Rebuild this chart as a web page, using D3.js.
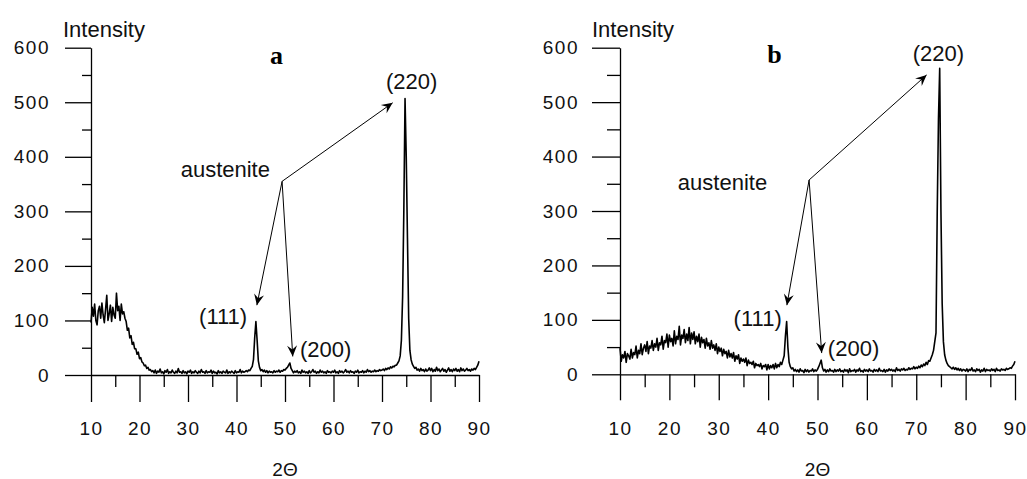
<!DOCTYPE html>
<html>
<head>
<meta charset="utf-8">
<script src="https://cdn.jsdelivr.net/npm/d3@7"></script>
<style>
  html, body { margin: 0; padding: 0; background: #fff; }
  svg { display: block; }
</style>
</head>
<body>
<div id="chart"></div>
<script>
const WIDTH = 1027, HEIGHT = 479;

// 2-theta sampling grid (degrees)
const THETA_START = 10, THETA_STEP = 0.25, N_POINTS = 321;

// intensity of sample a, one row per 5 degrees (20 readings each)
const INTENSITY_A = [
  96,124,108,130,100,92,118,126,104,132,110,96,120,146,100,112,128,98,124,110,   // 10
  104,150,118,126,100,130,112,116,104,98,82,86,68,72,56,60,48,48,38,42,          // 15
  30,32,24,22,17,18,12,14,9,10,6,8,4,9,3,7,5,11,4,6,                             // 20
  2,8,5,10,3,6,4,9,5,3,7,4,12,5,6,3,8,4,6,2,                                     // 25
  7,5,9,3,6,4,8,5,3,7,4,10,5,6,3,8,4,6,5,9,                                      // 30
  3,7,4,5,2,8,4,6,3,7,5,4,9,3,6,4,7,5,3,8,                                       // 35
  4,6,5,10,4,7,5,6,8,6,9,8,12,16,28,68,98,64,26,14,                              // 40
  8,10,6,9,5,8,4,7,5,6,4,8,5,7,6,9,5,8,7,10,                                     // 45
  9,12,14,18,22,12,8,4,7,5,8,4,6,3,9,5,7,4,6,3,                                  // 50
  8,4,6,10,5,7,3,6,4,9,5,7,4,6,3,8,5,6,4,7,                                      // 55
  5,9,4,6,3,8,5,7,4,6,10,5,7,4,8,5,6,3,7,5,                                      // 60
  9,4,6,5,8,4,7,5,10,6,8,5,7,6,9,6,8,7,10,8,                                     // 65
  9,11,8,12,10,13,11,15,13,16,15,18,18,22,26,35,64,143,300,507,                  // 70
  400,251,104,45,28,20,16,12,14,9,11,7,12,8,10,6,11,7,9,13,                      // 75
  8,12,6,10,7,14,8,11,6,9,12,7,10,5,9,13,7,10,6,11,                              // 80
  8,12,7,10,6,13,8,11,7,9,12,8,10,7,11,9,12,10,14,18,                            // 85
  25                                                                             // 90
];

// intensity of sample b
const INTENSITY_B = [
  48,24,36,30,42,22,38,34,28,46,30,40,36,52,30,44,38,56,36,48,                   // 10
  54,42,60,38,52,48,62,44,56,50,66,44,58,54,70,46,62,58,74,50,                   // 15
  72,60,66,52,80,56,70,64,88,54,72,66,82,58,74,62,86,56,76,64,                   // 20
  78,56,70,60,74,50,68,58,64,48,66,52,58,46,62,48,54,44,56,38,                   // 25
  50,42,48,34,46,38,42,30,44,32,38,30,40,24,34,28,36,20,30,24,                   // 30
  28,22,30,16,26,20,22,18,24,12,20,16,18,14,20,10,16,14,18,8,                    // 35
  18,10,16,12,18,10,20,12,18,14,22,18,26,34,70,97,50,22,14,10,                   // 40
  12,6,9,5,8,4,10,6,7,3,9,5,8,4,7,6,10,5,8,6,                                    // 45
  9,14,20,26,12,6,9,4,8,5,10,6,7,4,9,5,8,6,10,5,                                 // 50
  7,4,9,6,8,3,10,5,7,6,9,4,8,6,11,5,7,4,9,6,                                     // 55
  8,5,10,6,7,4,9,6,8,5,11,6,7,5,9,4,8,6,10,7,                                    // 60
  9,6,8,5,12,7,9,6,10,8,11,7,9,8,12,9,11,10,14,10,                               // 65
  13,11,15,12,17,14,19,16,22,18,25,24,30,36,44,60,76,300,470,562,                // 70
  300,130,60,36,26,20,16,14,12,10,13,9,12,8,11,7,10,6,9,8,                       // 75
  6,10,5,9,7,12,6,8,5,10,7,9,4,8,6,11,5,9,7,8,                                   // 80
  6,10,7,9,5,11,7,8,6,10,8,9,7,11,9,10,12,11,15,18,                              // 85
  24                                                                             // 90
];

const X_MAJOR = [10, 20, 30, 40, 50, 60, 70, 80, 90];
const X_MINOR = [15, 25, 35, 45, 55, 65, 75, 85];
const Y_MAJOR = [0, 100, 200, 300, 400, 500, 600];
const Y_MINOR = [50, 150, 250, 350, 450, 550];

// annotations in data units: [theta, intensity]
const APEX_A = [49.4, 355];
const TIPS_A = [[72.2, 499], [44.2, 128], [51.6, 34]];
const APEX_B = [48.3, 357];
const TIPS_B = [[72.1, 550], [43.8, 127], [50.85, 39]];

const LABELS_A = [
  { text: "austenite", t: 46.9, i: 363, anchor: "end" },
  { text: "(111)", t: 42.2, i: 93, anchor: "end" },
  { text: "(200)", t: 53.1, i: 33, anchor: "start" },
  { text: "(220)", t: 70.8, i: 524, anchor: "start" }
];
const LABELS_B = [
  { text: "austenite", t: 39.8, i: 338, anchor: "end" },
  { text: "(111)", t: 42.75, i: 89, anchor: "end" },
  { text: "(200)", t: 52.1, i: 34, anchor: "start" },
  { text: "(220)", t: 69.3, i: 575, anchor: "start" }
];

const thetas = d3.range(N_POINTS).map(i => THETA_START + i * THETA_STEP);

const PANELS = [
  { name: "a", values: INTENSITY_A, apex: APEX_A, tips: TIPS_A, labels: LABELS_A,
    xr: [91, 479], yr: [375, 47.7], yMaj: 26, yMin: 9, xMaj: 27, xMin: 12,
    tag: [46.9, 571] },
  { name: "b", values: INTENSITY_B, apex: APEX_B, tips: TIPS_B, labels: LABELS_B,
    xr: [620, 1015], yr: [374.3, 47.7], yMaj: 28, yMin: 13, xMaj: 26, xMin: 13,
    tag: [39.8, 572] }
];

const FONT = "'Liberation Sans', Arial, sans-serif";

const svg = d3.select("#chart").append("svg")
  .attr("width", WIDTH)
  .attr("height", HEIGHT);

svg.append("defs").append("marker")
  .attr("id", "arr")
  .attr("markerUnits", "userSpaceOnUse")
  .attr("viewBox", "-12 -6 14 12")
  .attr("refX", 0).attr("refY", 0)
  .attr("markerWidth", 14).attr("markerHeight", 12)
  .attr("orient", "auto")
  .append("path")
  .attr("d", "M0,0 L-11,-5 L-7,0 L-11,5 Z")
  .attr("fill", "#000");

PANELS.forEach(p => drawPanel(p));

function drawPanel(p) {
  const x = d3.scaleLinear().domain([10, 90]).range(p.xr);
  const y = d3.scaleLinear().domain([0, 600]).range(p.yr);
  const g = svg.append("g");

  // y axis: major ticks with labels, then minor ticks
  const yAx = g.append("g")
    .attr("transform", `translate(${p.xr[0]},0)`)
    .call(d3.axisLeft(y).tickValues(Y_MAJOR).tickSize(p.yMaj).tickSizeOuter(0)
      .tickPadding(43 - p.yMaj - 2));
  g.append("g")
    .attr("transform", `translate(${p.xr[0]},0)`)
    .call(d3.axisLeft(y).tickValues(Y_MINOR).tickSize(p.yMin).tickFormat(""))
    .call(a => a.select(".domain").remove());

  // x axis
  const xAx = g.append("g")
    .attr("transform", `translate(0,${p.yr[0]})`)
    .call(d3.axisBottom(x).tickValues(X_MAJOR).tickSize(p.xMaj).tickSizeOuter(0)
      .tickPadding(47 - p.xMaj));
  g.append("g")
    .attr("transform", `translate(0,${p.yr[0]})`)
    .call(d3.axisBottom(x).tickValues(X_MINOR).tickSize(p.xMin).tickFormat(""))
    .call(a => a.select(".domain").remove());

  g.selectAll(".domain, .tick line")
    .attr("stroke", "#000")
    .attr("stroke-width", 1.3);
  [yAx, xAx].forEach(a => a.attr("font-family", FONT).attr("font-size", 19));
  g.selectAll(".tick text")
    .attr("fill", "#111")
    .style("letter-spacing", "1.5px");

  // spectrum
  const line = d3.line()
    .x((d, i) => x(thetas[i]))
    .y(d => y(d));
  g.append("path")
    .datum(p.values)
    .attr("d", line)
    .attr("fill", "none")
    .attr("stroke", "#000")
    .attr("stroke-width", 1.6)
    .attr("stroke-linejoin", "round");

  // arrows from "austenite" to the peaks
  g.selectAll(".arrow")
    .data(p.tips)
    .enter()
    .append("line")
    .attr("class", "arrow")
    .attr("x1", x(p.apex[0]))
    .attr("y1", y(p.apex[1]))
    .attr("x2", d => x(d[0]))
    .attr("y2", d => y(d[1]))
    .attr("stroke", "#000")
    .attr("stroke-width", 1)
    .attr("marker-end", "url(#arr)");

  g.selectAll(".lab")
    .data(p.labels)
    .enter()
    .append("text")
    .attr("class", "lab")
    .attr("x", d => x(d.t))
    .attr("y", d => y(d.i))
    .attr("text-anchor", d => d.anchor)
    .attr("font-family", FONT)
    .attr("font-size", 22)
    .attr("fill", "#111")
    .text(d => d.text);

  // panel letter
  g.append("text")
    .attr("x", x(p.tag[0]))
    .attr("y", y(p.tag[1]))
    .attr("font-family", "'Liberation Serif', 'Times New Roman', serif")
    .attr("font-weight", "bold")
    .attr("font-size", 26)
    .text(p.name);

  g.append("text")
    .attr("x", p.xr[0] - 28)
    .attr("y", 37)
    .attr("font-family", FONT)
    .attr("font-size", 22)
    .attr("fill", "#111")
    .text("Intensity");

  g.append("text")
    .attr("x", x(50))
    .attr("y", 476)
    .attr("text-anchor", "middle")
    .attr("font-family", FONT)
    .attr("font-size", 19)
    .attr("fill", "#111")
    .text("2\u0398");
}
</script>
</body>
</html>
